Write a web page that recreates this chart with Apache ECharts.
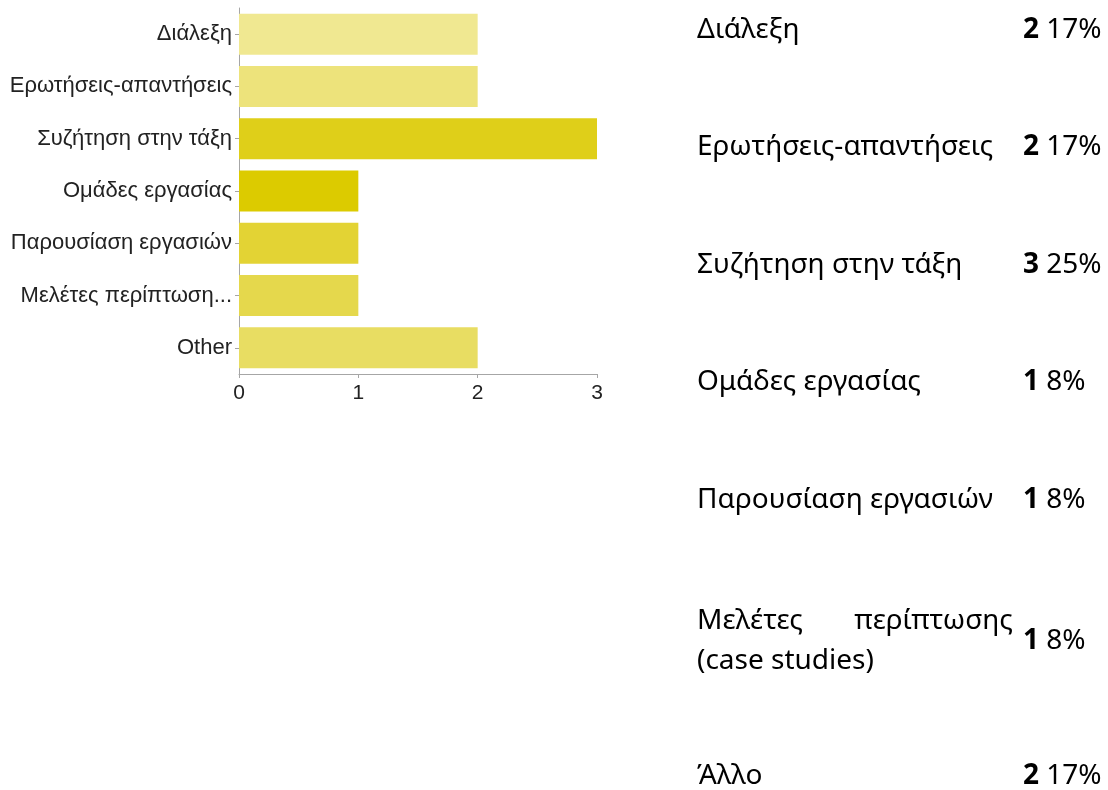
<!DOCTYPE html>
<html>
<head>
<meta charset="utf-8">
<script src="https://cdn.jsdelivr.net/npm/echarts@6/dist/echarts.min.js"></script>
<style>
html,body{margin:0;padding:0;background:#fff;}
#main{width:1108px;height:790px;}
</style>
</head>
<body>
<div id="main"></div>
<script>
// ---- data ----
var categories = ['Διάλεξη', 'Ερωτήσεις-απαντήσεις', 'Συζήτηση στην τάξη', 'Ομάδες εργασίας', 'Παρουσίαση εργασιών', 'Μελέτες περίπτωση...', 'Other'];
var values = [2, 2, 3, 1, 1, 1, 2];
var barColors = ['#f0e891', '#ede37b', '#dfcf19', '#dccb00', '#e3d334', '#e5d84c', '#e8dd62'];
var xTicks = [0, 1, 2, 3];

var tableLabels = [['Διάλεξη'], ['Ερωτήσεις-απαντήσεις'], ['Συζήτηση στην τάξη'], ['Ομάδες εργασίας'], ['Παρουσίαση εργασιών'], ['Μελέτες περίπτωσης', '(case studies)'], ['Άλλο']];
var tableCounts = [2, 2, 3, 1, 1, 1, 2];
var tablePercents = ['17%', '17%', '25%', '8%', '8%', '8%', '17%'];

// ---- layout ----
var rowY = [30, 147, 265, 382, 500, 641, 776];
var tableFont = '"Noto Sans", "Open Sans", sans-serif';
var tableSize = 28;
var labelX = 697, justifyRight = 1013, numX = 1023, lineGap = 40;
var axisFont = '"Liberation Sans", Arial, sans-serif';

var chart = echarts.init(document.getElementById('main'), null, {renderer: 'canvas'});

var graphics = [];
function txt(x, y, s, align) {
  return {type: 'text', x: x, y: y, style: {text: s, font: tableSize + 'px ' + tableFont, fill: '#000', textAlign: align || 'left', textVerticalAlign: 'middle'}};
}
tableLabels.forEach(function (lines, i) {
  var y = rowY[i];
  if (lines.length === 1) {
    graphics.push(txt(labelX, y, lines[0]));
  } else {
    var y0 = y - lineGap / 2;
    var words = lines[0].split(' ');
    graphics.push(txt(labelX, y0, words[0]));
    graphics.push(txt(justifyRight, y0, words.slice(1).join(' '), 'right'));
    for (var k = 1; k < lines.length; k++) {
      graphics.push(txt(labelX, y0 + lineGap * k, lines[k]));
    }
  }
  graphics.push({
    type: 'text', x: numX, y: y,
    style: {
      text: '{b|' + tableCounts[i] + '} ' + tablePercents[i],
      font: tableSize + 'px ' + tableFont, fill: '#000', textVerticalAlign: 'middle',
      rich: {b: {fontWeight: 'bold', fontSize: tableSize, fontFamily: tableFont, fill: '#000'}}
    }
  });
});

var option = {
  animation: false,
  backgroundColor: '#fff',
  grid: {left: 239, top: 8, width: 358, height: 366, containLabel: false},
  xAxis: {
    type: 'value', min: xTicks[0], max: xTicks[xTicks.length - 1], interval: 1,
    axisLine: {show: true, lineStyle: {color: '#a6a6a6', width: 1}},
    axisTick: {show: true, length: 4, lineStyle: {color: '#a6a6a6'}},
    splitLine: {show: false},
    axisLabel: {color: '#222', fontFamily: axisFont, fontSize: 21, margin: 9}
  },
  yAxis: {
    type: 'category', data: categories, inverse: true,
    axisLine: {show: true, lineStyle: {color: '#a6a6a6', width: 1}},
    axisTick: {show: true, alignWithLabel: true, length: 4, lineStyle: {color: '#a6a6a6'}},
    axisLabel: {color: '#222', fontFamily: axisFont, fontSize: 22, margin: 7}
  },
  series: [{
    type: 'bar',
    data: values.map(function (v, i) { return {value: v, itemStyle: {color: barColors[i]}}; }),
    barWidth: 41
  }],
  graphic: graphics
};
chart.setOption(option);
</script>
</body>
</html>
